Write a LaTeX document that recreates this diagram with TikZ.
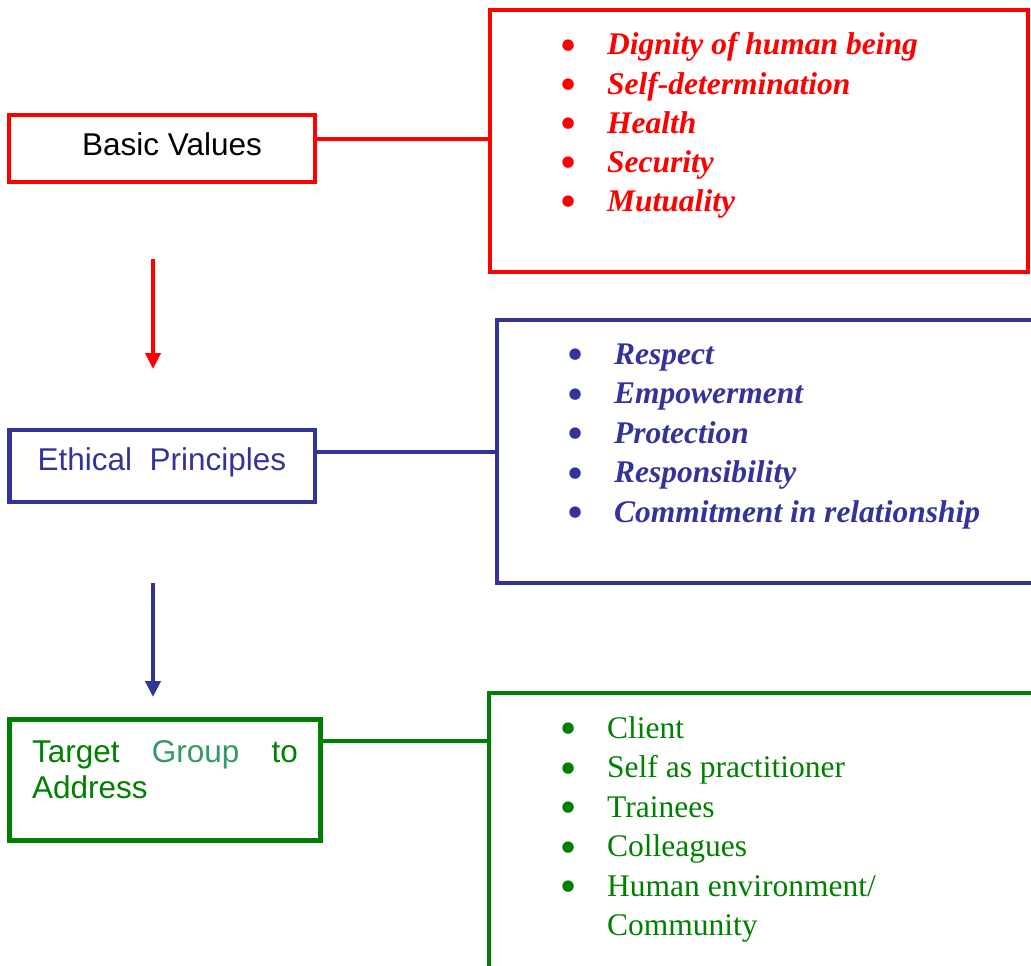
\documentclass[tikz,border=0pt]{standalone}
\usepackage{fontspec}
\setmainfont{Liberation Serif}
\setsansfont{Liberation Sans}
\newfontfamily\bulletfont{DejaVu Sans}
\usetikzlibrary{arrows.meta}
\definecolor{ValueRed}{HTML}{FF0000}
\definecolor{PrincipleBlue}{HTML}{333399}
\definecolor{TargetGreen}{HTML}{008000}
\definecolor{GroupGreen}{HTML}{339966}
\newcommand{\itembul}{\makebox[45pt][l]{\bulletfont\fontsize{15}{15}\selectfont\hspace*{-0.5pt}\raisebox{5.5pt}{●}}}

\begin{document}
\begin{tikzpicture}[x=1pt, y=-1pt, every node/.style={inner sep=0pt},
    leftbox/.style={draw=#1, line width=4.5pt, font=\sffamily\fontsize{31.5}{36}\selectfont},
    listbox/.style={draw=#1, line width=4.5pt},
    listitem/.style={anchor=base west, text=#1, font=\fontsize{31.5}{39.5}\selectfont},
    link/.style={draw=#1, line width=4pt},
    flow/.style={draw=#1, line width=4pt, -{Triangle[length=16pt, width=15pt]}}]
    \path[use as bounding box, clip] (0,0) rectangle (1031,966);

    % left column
    \node[leftbox=ValueRed, minimum width=306pt, minimum height=67pt, text depth=8pt] (basic) at (162,148.5) {\hspace*{20pt}Basic Values};
    \node[leftbox=PrincipleBlue, text=PrincipleBlue, minimum width=305.5pt, minimum height=72pt, text depth=13pt] (ethic) at (162,466) {Ethical~~Principles};
    \node[leftbox=TargetGreen, text=TargetGreen, minimum width=311pt, minimum height=121pt, text width=266pt, align=left, text height=12pt, text depth=48pt] (target) at (165,780) {\makebox[\linewidth][s]{Target\hfill\textcolor{GroupGreen}{Group}\hfill to}\\Address};

    % right column
    \node[listbox=ValueRed, minimum width=538pt, minimum height=262pt] (values) at (759,141) {};
    \node[listbox=PrincipleBlue, minimum width=543pt, minimum height=263pt] (principles) at (768.5,451.5) {};
    \node[listbox=TargetGreen, minimum width=551pt, minimum height=307pt] (groups) at (764.5,846.5) {};

    \foreach \txt [count=\i] in {Dignity of human being, Self-determination, Health, Security, Mutuality}
      \node[listitem=ValueRed] (v\i) at (562, 16+39*\i) {\itembul\bfseries\itshape\txt};
    \foreach \txt [count=\i] in {Respect, Empowerment, Protection, Responsibility, Commitment in relationship}
      \node[listitem=PrincipleBlue] (p\i) at (569, 324.5+39.5*\i) {\itembul\bfseries\itshape\txt};
    \foreach \txt [count=\i] in {Client, Self as practitioner, Trainees, Colleagues, Human environment/}
      \node[listitem=TargetGreen] (g\i) at (562, 698.5+39.5*\i) {\itembul\txt};
    \node[listitem=TargetGreen] (g6) at (607, 935.5) {Community};

    % links and arrows
    \coordinate (gjoin) at ([yshift=-50pt]groups.north west);
    \draw[link=ValueRed] ([yshift=2pt]values.west) -- ([yshift=2pt]basic.east |- values.west);
    \draw[link=PrincipleBlue] (principles.west) -- (ethic.east |- principles.west);
    \draw[link=TargetGreen] (gjoin) -- (target.east |- gjoin);

    \coordinate (vtop) at (153,259);
    \coordinate (vtip) at (153,369);
    \coordinate (ptop) at (153,583);
    \coordinate (ptip) at (153,697);
    \draw[flow=ValueRed] (vtop) -- (vtip);
    \draw[flow=PrincipleBlue] (ptop) -- (ptip);
\end{tikzpicture}
\end{document}
